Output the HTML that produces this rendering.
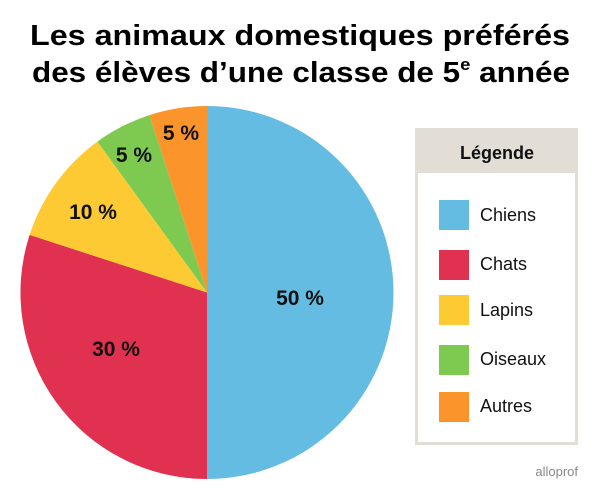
<!DOCTYPE html>
<html><head><meta charset="utf-8"><style>
body{margin:0;background:#fff;}
svg{display:block;font-family:"Liberation Sans",sans-serif;}
</style></head><body>
<svg width="600" height="499" viewBox="0 0 600 499">
<text x="30" y="45" font-size="29" font-weight="bold" fill="#000" textLength="540" lengthAdjust="spacingAndGlyphs">Les animaux domestiques préférés</text>
<text x="32" y="82" font-size="29" font-weight="bold" fill="#000" textLength="538" lengthAdjust="spacingAndGlyphs">des élèves d’une classe de 5<tspan font-size="17" dy="-12">e</tspan><tspan dy="12"> année</tspan></text>
<g>
<path d="M207,292.5 L207,106 A186.5,186.5 0 0 1 207,479 Z" fill="#65bce3"/>
<path d="M207,292.5 L207,479 A186.5,186.5 0 0 1 29.6,234.9 Z" fill="#e03150"/>
<path d="M207,292.5 L29.6,234.9 A186.5,186.5 0 0 1 97.4,141.6 Z" fill="#fdca33"/>
<path d="M207,292.5 L97.4,141.6 A186.5,186.5 0 0 1 149.4,115.1 Z" fill="#7ec94f"/>
<path d="M207,292.5 L149.4,115.1 A186.5,186.5 0 0 1 207,106 Z" fill="#fb952b"/>
</g>
<g font-size="21" font-weight="bold" fill="#111">
<text x="300" y="305" text-anchor="middle">50 %</text>
<text x="116" y="356" text-anchor="middle">30 %</text>
<text x="93" y="219" text-anchor="middle">10 %</text>
<text x="134" y="162" text-anchor="middle">5 %</text>
<text x="181" y="140" text-anchor="middle">5 %</text>
</g>
<rect x="416.5" y="129.5" width="160" height="314" fill="#fff" stroke="#e2ddd5" stroke-width="3"/>
<rect x="416" y="129" width="161" height="44" fill="#e2ddd5"/>
<text x="497" y="159" text-anchor="middle" font-size="18" font-weight="bold" fill="#111">Légende</text>
<rect x="439" y="200" width="30" height="30" fill="#65bce3"/>
<rect x="439" y="250" width="30" height="30" fill="#e03150"/>
<rect x="439" y="295" width="30" height="30" fill="#fdca33"/>
<rect x="439" y="345" width="30" height="30" fill="#7ec94f"/>
<rect x="439" y="392" width="30" height="30" fill="#fb952b"/>
<g font-size="18" fill="#111">
<text x="480" y="221">Chiens</text>
<text x="480" y="270">Chats</text>
<text x="480" y="316">Lapins</text>
<text x="480" y="365">Oiseaux</text>
<text x="480" y="412">Autres</text>
</g>
<text x="578" y="476" text-anchor="end" font-size="13" fill="#888">alloprof</text>
</svg>
</body></html>
